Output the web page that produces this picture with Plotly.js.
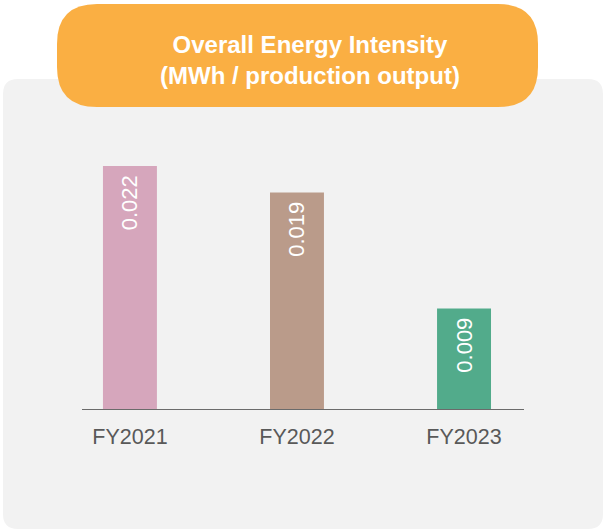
<!DOCTYPE html>
<html>
<head>
<meta charset="utf-8">
<script src="https://cdn.plot.ly/plotly-3.0.1.min.js"></script>
<style>html,body{margin:0;padding:0;background:#fff;}#chart{width:605px;height:530px;}</style>
</head>
<body>
<div id="chart"></div>
<script>
const categories = ['FY2021', 'FY2022', 'FY2023'];
const values = [0.022, 0.0196, 0.0091];
const valueLabels = ['0.022', '0.019', '0.009'];
const barColors = ['#D6A6BC', '#BA9B8A', '#52AB8B'];
const titleText = '<b>Overall Energy Intensity</b><br><b>(MWh / production output)</b>';

const W = 605, H = 530;
const ML = 82, MR = 81, MT = 133, MB = 121;
const plotW = W - ML - MR, plotH = H - MT - MB;
const xp = px => (px - ML) / plotW;
const yp = py => (H - MB - py) / plotH;

function roundRect(x0, y0, x1, y1, r) {
  const P = (x, y) => xp(x) + ',' + yp(y);
  return 'M' + P(x0 + r, y0) +
    ' L' + P(x1 - r, y0) + ' Q' + P(x1, y0) + ' ' + P(x1, y0 + r) +
    ' L' + P(x1, y1 - r) + ' Q' + P(x1, y1) + ' ' + P(x1 - r, y1) +
    ' L' + P(x0 + r, y1) + ' Q' + P(x0, y1) + ' ' + P(x0, y1 - r) +
    ' L' + P(x0, y0 + r) + ' Q' + P(x0, y0) + ' ' + P(x0 + r, y0) + ' Z';
}

const trace = {
  type: 'bar',
  x: categories,
  y: values,
  text: valueLabels,
  texttemplate: '%{text}\u00a0',
  textposition: 'inside',
  insidetextanchor: 'end',
  textangle: -90,
  constraintext: 'none',
  insidetextfont: {family: 'Liberation Sans, Arial, sans-serif', size: 22, color: '#ffffff'},
  marker: {color: barColors, line: {width: 0}},
  width: 0.323,
  hoverinfo: 'none'
};

const layout = {
  width: W, height: H,
  margin: {l: ML, r: MR, t: MT, b: MB, pad: 0},
  paper_bgcolor: '#ffffff',
  plot_bgcolor: 'rgba(0,0,0,0)',
  showlegend: false,
  xaxis: {
    type: 'category',
    range: [-0.287, 2.359],
    showline: true, linecolor: '#6b6b6b', linewidth: 1,
    showgrid: false, zeroline: false, ticks: '',
    ticklabelstandoff: 8,
    tickfont: {family: 'Liberation Sans, Arial, sans-serif', size: 21.5, color: '#595959'},
    fixedrange: true
  },
  yaxis: {
    range: [0, 0.025],
    visible: false, showgrid: false, zeroline: false, fixedrange: true
  },
  shapes: [
    {type: 'path', xref: 'paper', yref: 'paper', layer: 'below',
     path: roundRect(3, 79, 603, 529, 15), fillcolor: '#f2f2f2', line: {width: 0}},
    {type: 'path', xref: 'paper', yref: 'paper', layer: 'below',
     path: roundRect(57, 4, 538, 107, 40), fillcolor: '#FAAF43', line: {width: 0}}
  ],
  annotations: [
    {text: titleText, xref: 'paper', yref: 'paper', x: xp(309.5), y: yp(60),
     xanchor: 'center', yanchor: 'middle', showarrow: false,
     font: {family: 'Liberation Sans, Arial, sans-serif', size: 24, color: '#ffffff'}}
  ]
};

Plotly.newPlot('chart', [trace], layout, {displayModeBar: false, staticPlot: true});
</script>
</body>
</html>
